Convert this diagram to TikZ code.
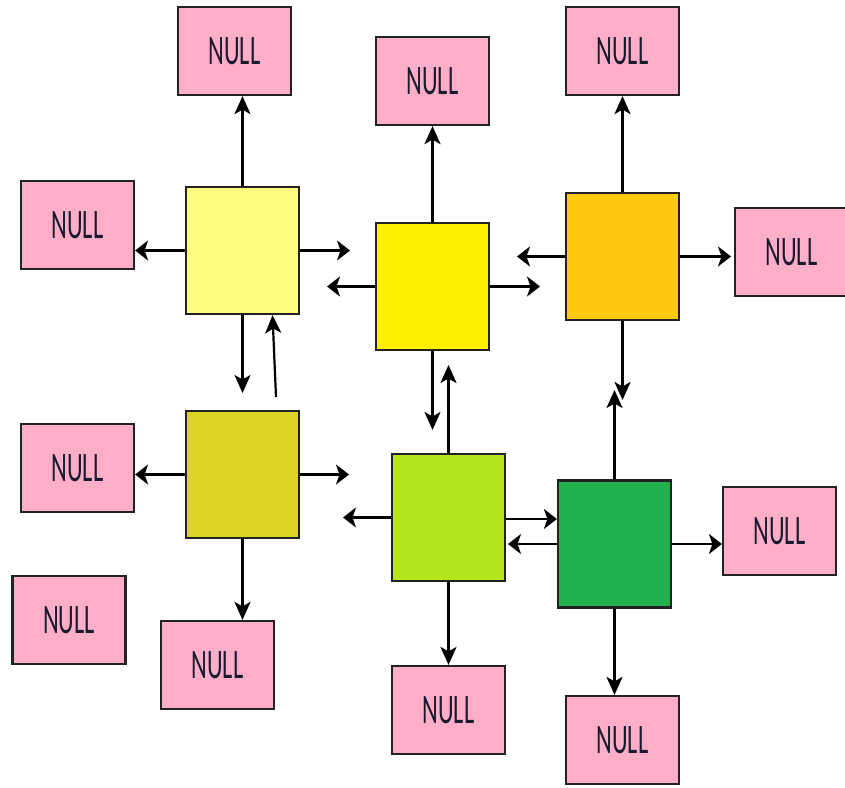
\documentclass[tikz,border=0pt]{standalone}
\usepackage{fontspec}
\setmainfont{Carlito}
\usetikzlibrary{arrows.meta}
\definecolor{nullpink}{HTML}{FFAEC9}
\definecolor{edgegray}{HTML}{222222}
\definecolor{txtdark}{HTML}{1A1A2E}
\definecolor{cA}{HTML}{FFFC7F}
\definecolor{cB}{HTML}{FFF200}
\definecolor{cC}{HTML}{FFC90E}
\definecolor{cD}{HTML}{DCD322}
\definecolor{cE}{HTML}{B5E61D}
\definecolor{cF}{HTML}{22B14C}
% condensed label used in every empty neighbour box
\newcommand{\nulltext}{\scalebox{0.58}[1]{\fontsize{42}{42}\selectfont NULL}}
\begin{document}
\begin{tikzpicture}[x=1pt,y=-1pt,
  cell/.style={draw=edgegray, line width=2.2pt, minimum width=113pt, minimum height=127pt, inner sep=0pt},
  nullbox/.style={draw=edgegray, line width=2.2pt, fill=nullpink, minimum width=113pt, minimum height=88pt, inner sep=0pt, text=txtdark},
  harr/.style={draw=black, line width=2.2pt, -{Stealth[length=13pt, width=20pt, inset=3.5pt]}},
  varr/.style={draw=black, line width=2.2pt, -{Stealth[length=18pt, width=16pt, inset=4.5pt]}}]
\useasboundingbox (0,0) rectangle (845,787);

% grid cells
\node[cell, fill=cA] (A) at (242.5,250.5) {};
\node[cell, fill=cB] (B) at (432.5,286.5) {};
\node[cell, fill=cC] (C) at (622.5,256.5) {};
\node[cell, fill=cD] (D) at (242.5,474.5) {};
\node[cell, fill=cE] (E) at (448.5,517.5) {};
\node[cell, fill=cF] (F) at (614.5,544) {};

% NULL neighbours
\node[nullbox] (n1) at (234.5,51) {\nulltext};
\node[nullbox] (n2) at (432.5,81) {\nulltext};
\node[nullbox] (n3) at (622.5,51) {\nulltext};
\node[nullbox] (n4) at (77.5,225) {\nulltext};
\node[nullbox] (n5) at (791.5,252) {\nulltext};
\node[nullbox] (n6) at (77.5,468) {\nulltext};
\node[nullbox] (n7) at (69,620) {\nulltext};
\node[nullbox] (n8) at (217.5,665) {\nulltext};
\node[nullbox] (n9) at (448.5,710) {\nulltext};
\node[nullbox] (n10) at (779.5,531) {\nulltext};
\node[nullbox] (n11) at (622.5,740) {\nulltext};

% open arrow ends
\coordinate (aR) at (350,250.5);
\coordinate (aD) at (242.5,393);
\coordinate (dU) at (276,397);
\coordinate (bL) at (327,286.5);
\coordinate (bR) at (540,286.5);
\coordinate (bD) at (432.5,430);
\coordinate (cL) at (517,256.5);
\coordinate (cR) at (731,256.5);
\coordinate (cD) at (622.5,400);
\coordinate (dR) at (349,474.5);
\coordinate (eL) at (343,517.5);
\coordinate (eU) at (448.5,365);
\coordinate (fL) at (508,544);
\coordinate (fU) at (614.5,390);

% cell A
\draw[varr] (A.north) -- (A.north |- n1.south);
\draw[harr] (A.west) -- (A.west -| n4.east);
\draw[harr] (A.east) -- (aR);
\draw[varr] (A.south) -- (aD);
% cell B
\draw[varr] (B.north) -- (n2.south);
\draw[harr] (B.west) -- (bL);
\draw[harr] (B.east) -- (bR);
\draw[varr] (B.south) -- (bD);
% cell C
\draw[varr] (C.north) -- (n3.south);
\draw[harr] (C.west) -- (cL);
\draw[harr] (C.east) -- (cR);
\draw[varr] (C.south) -- (cD);
% cell D
\draw[varr] (dU) -- ([xshift=30pt]A.south);
\draw[harr] (D.west) -- (D.west -| n6.east);
\draw[harr] (D.east) -- (dR);
\draw[varr] (D.south) -- (D.south |- n8.north);
% cell E
\draw[varr] (E.north) -- (eU);
\draw[harr] (E.west) -- (eL);
\draw[harr] ([yshift=-1.5pt]E.east) -- ([yshift=25pt]F.west);
\draw[varr] (E.south) -- (n9.north);
% cell F
\draw[varr] (F.north) -- (fU);
\draw[harr] (F.west) -- (fL);
\draw[harr] (F.east) -- (F.east -| n10.west);
\draw[varr] (F.south) -- (F.south |- n11.north);
\end{tikzpicture}
\end{document}
